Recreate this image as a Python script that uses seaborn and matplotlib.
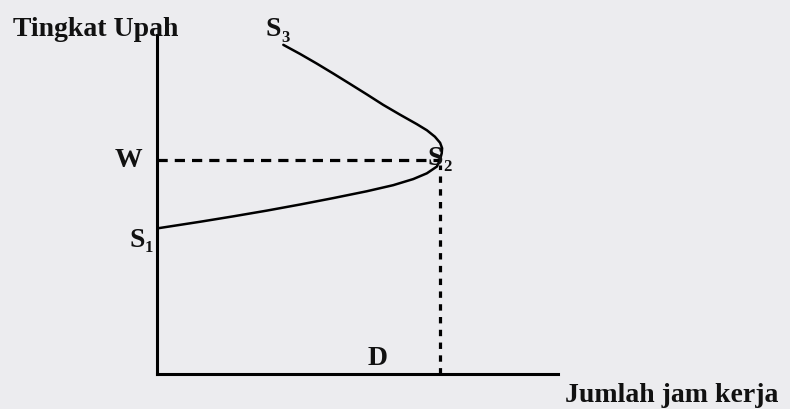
import matplotlib.pyplot as plt
import seaborn as sb
import pandas as pd

# Kurva penawaran tenaga kerja yang membelok ke belakang (S1 -> S2 -> S3)
jam_kerja = [0.3, 10.7, 19.0, 27.4, 35.7, 44.0, 52.3, 58.9, 63.9, 67.3,
             69.8, 70.6, 71.0, 71.1, 70.6, 69.3, 67.3, 64.8, 60.6, 56.4,
             52.3, 48.1, 44.0, 39.8, 35.7, 31.5]
upah = [43.0, 44.9, 46.5, 48.2, 50.0, 51.9, 53.9, 55.7, 57.5, 59.2,
        61.2, 63.3, 65.1, 66.6, 68.2, 70.0, 71.9, 73.7, 76.5, 79.4,
        82.5, 85.6, 88.6, 91.6, 94.4, 97.1]

upah_W = 63.1
jam_D = 70.6

sb.set_style("white")
plt.rcParams["font.family"] = ["Liberation Serif", "DejaVu Serif"]

bg = "#ececef"
fig = plt.figure(figsize=(7.9, 4.09), dpi=100, facecolor=bg)
ax = fig.add_axes([157 / 790, 35 / 409, 401 / 790, 339 / 409])
ax.set_facecolor(bg)

df = pd.DataFrame({"jam": jam_kerja, "upah": upah})
sb.lineplot(data=df, x="jam", y="upah", sort=False, estimator=None,
            color="black", linewidth=1.8, ax=ax)

# garis putus-putus W dan D
ax.plot([0, jam_D], [upah_W, upah_W], color="black", lw=2.3,
        dashes=(3.2, 2.2))
ax.plot([jam_D, jam_D], [0, upah_W - 1.5], color="black", lw=2.3,
        dashes=(2.0, 2.0))

ax.set_xlim(0, 100)
ax.set_ylim(0, 100)
ax.set_xticks([])
ax.set_yticks([])
ax.set_xlabel("")
ax.set_ylabel("")
for s in ["top", "right"]:
    ax.spines[s].set_visible(False)
for s in ["left", "bottom"]:
    ax.spines[s].set_linewidth(2.2)
    ax.spines[s].set_color("black")

fs = 20
kw = dict(fontsize=fs, fontweight="bold", clip_on=False, color="#111111")
ax.text(-15.3, 101.5, "Tingkat Upah", ha="center", va="center", **kw)
ax.text(128.4, -6.3, "Jumlah jam kerja", ha="center", va="center", **kw)
ax.text(55.1, 4.7, "D", ha="center", va="center", **kw)
ax.text(-7.0, upah_W, "W", ha="center", va="center", **kw)


def label_s(x, y, sub):
    ax.text(x, y, "S", ha="center", va="center", **kw)
    ax.annotate(sub, xy=(x, y), xytext=(5.5, -6), textcoords="offset points",
                ha="left", va="center", fontsize=12, fontweight="bold",
                color="#111111", annotation_clip=False)


label_s(-5.0, 39.5, "1")
label_s(29.0, 101.5, "3")
label_s(69.4, 63.5, "2")

fig.savefig("out.png", dpi=100, facecolor=bg)
